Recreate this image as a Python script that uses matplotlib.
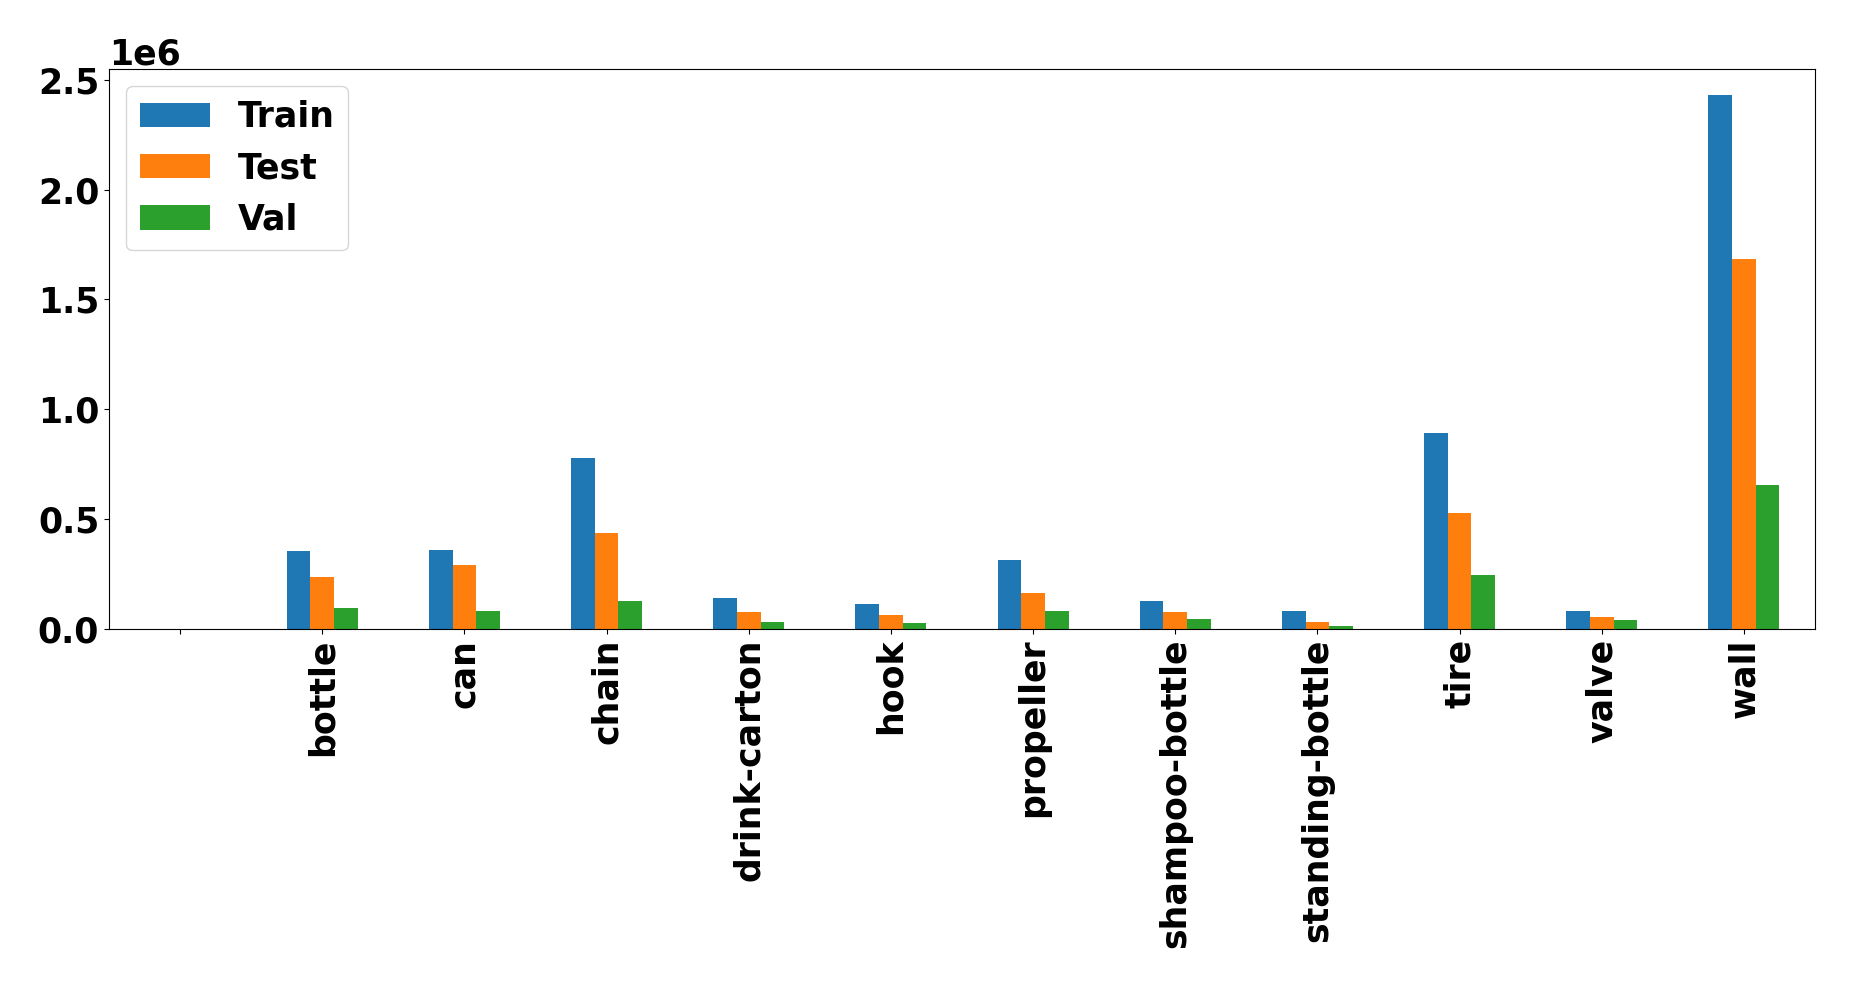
import matplotlib.pyplot as plt
import numpy as np

## data (raw counts, axis shows 1e6 offset)
categories = ['', 'bottle', 'can', 'chain', 'drink-carton', 'hook', 'propeller',
              'shampoo-bottle', 'standing-bottle', 'tire', 'valve', 'wall']
train = [0, 356000, 360000, 779000, 142000, 115000, 316000, 128000, 82000, 892000, 82000, 2429000]
test = [0, 237000, 293000, 438000, 78000, 65000, 165000, 78000, 33000, 528000, 56000, 1684000]
val = [0, 98000, 82000, 128000, 33000, 29000, 82000, 46000, 15000, 247000, 42000, 657000]

fs = 25
plt.rcParams['font.weight'] = 'bold'
plt.rcParams['font.size'] = fs

fig = plt.figure(figsize=(18.53, 9.86), dpi=100)
ax = fig.add_axes([0.0588, 0.362, 0.9207, 0.5684])

x = np.arange(len(categories))
w = 0.5 / 3
ax.bar(x - w, train, w, color='#1f77b4', label='Train')
ax.bar(x, test, w, color='#ff7f0e', label='Test')
ax.bar(x + w, val, w, color='#2ca02c', label='Val')

ax.set_xlim(-0.5, len(categories) - 0.5)
ax.set_xticks(x)
ax.set_xticklabels(categories, rotation=90, fontweight='bold')
ax.tick_params(axis='y', labelsize=fs)
ax.yaxis.get_offset_text().set_fontweight('bold')
ax.yaxis.get_offset_text().set_fontsize(fs)

ax.legend(loc='upper left', prop={'weight': 'bold', 'size': fs})

fig.savefig('out.png', dpi=100)
